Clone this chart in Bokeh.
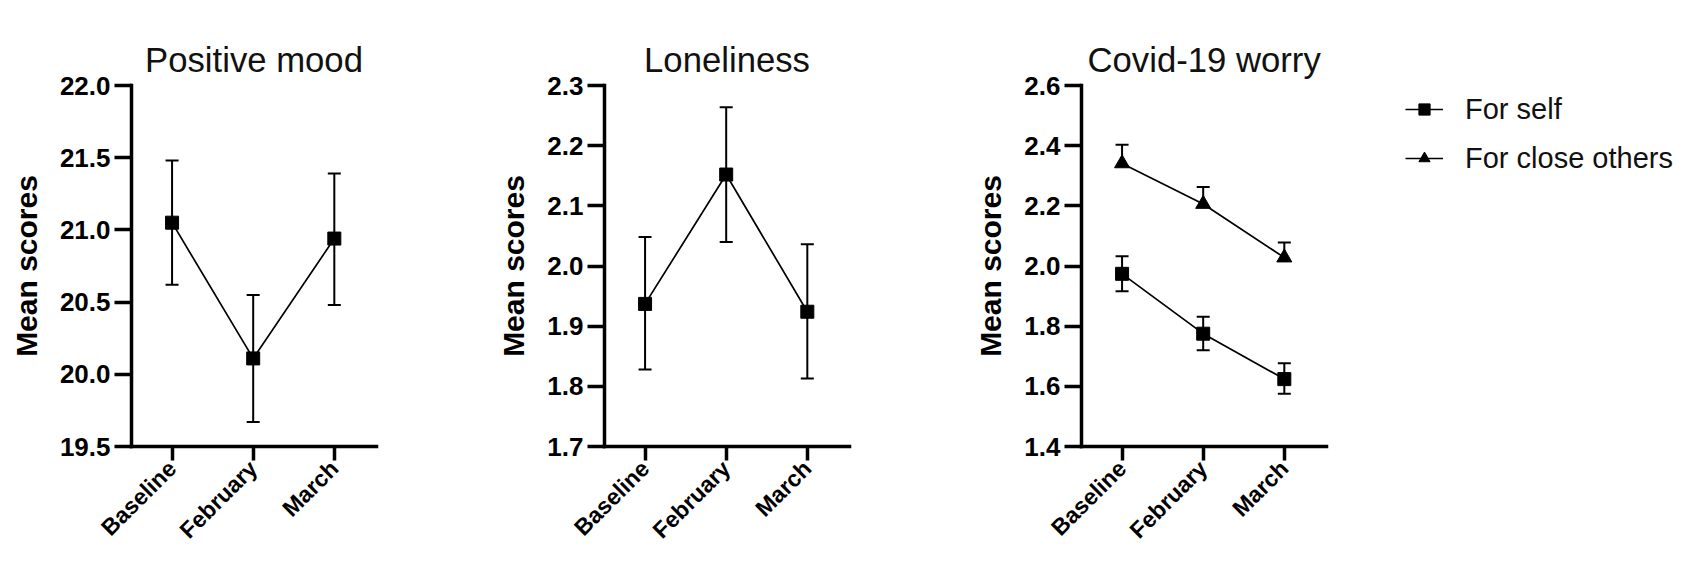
import math
from bokeh.plotting import figure
from bokeh.layouts import row
from bokeh.models import (Range1d, FixedTicker, Whisker, TeeHead, ColumnDataSource,
                          Legend, LegendItem, NumeralTickFormatter, LinearAxis, Title)
from bokeh.embed import file_html
from bokeh.resources import INLINE

# ---------------- data ----------------
categories = ["Baseline", "February", "March"]
x_pos = [0, 1, 2]

mood_mean = [21.05, 20.11, 20.94]
mood_lower = [20.62, 19.67, 20.48]
mood_upper = [21.48, 20.55, 21.39]

lonely_mean = [1.937, 2.152, 1.924]
lonely_lower = [1.828, 2.040, 1.813]
lonely_upper = [2.048, 2.264, 2.036]

self_mean = [1.974, 1.775, 1.624]
self_lower = [1.916, 1.720, 1.575]
self_upper = [2.032, 1.831, 1.677]

others_mean = [2.341, 2.206, 2.028]
others_upper = [2.403, 2.263, 2.078]

mood_ticks = [19.5, 20.0, 20.5, 21.0, 21.5, 22.0]
lonely_ticks = [1.7, 1.8, 1.9, 2.0, 2.1, 2.2, 2.3]
worry_ticks = [1.4, 1.6, 1.8, 2.0, 2.2, 2.4, 2.6]

titles = ["Positive mood", "Loneliness", "Covid-19 worry"]
y_label = "Mean scores"
legend_labels = ["For self", "For close others"]

FONT = "Liberation Sans"
H = 555
TOP = 85
FRAME_H = 363
X_LO, X_HI = -0.5, 2.52


def make_panel(title, ticks, width, left, right, x_end=X_HI, title_align="center"):
    p = figure(width=width, height=H, output_backend="svg", toolbar_location=None,
               title=None,
               x_range=Range1d(X_LO, x_end), y_range=Range1d(ticks[0], ticks[-1]),
               min_border_left=left, min_border_right=right,
               min_border_top=TOP, min_border_bottom=H - TOP - FRAME_H)
    p.outline_line_color = None
    p.background_fill_color = "white"
    p.border_fill_color = "white"
    p.xgrid.visible = False
    p.ygrid.visible = False

    # blank spacer between the frame and the title (no line, ticks or labels)
    spacer = LinearAxis(ticker=FixedTicker(ticks=[]), axis_line_color=None,
                        major_tick_line_color=None, minor_tick_line_color=None,
                        major_tick_out=32, major_tick_in=0,
                        minor_tick_out=0, minor_tick_in=0,
                        major_label_standoff=0, axis_label_standoff=0)
    p.add_layout(spacer, "above")

    ttl = Title(text=title, align=title_align, vertical_align="top",
                text_font=FONT, text_font_size="34.7px", text_font_style="normal",
                text_color="#111111", standoff=10,
                offset=6 if title_align == "left" else 0)
    p.add_layout(ttl, "above")

    xa = p.below[0]
    ya = p.left[0]
    for ax in (xa, ya):
        ax.axis_line_width = 3.5
        ax.axis_line_color = "black"
        ax.axis_line_cap = "square"
        ax.major_tick_line_width = 3.5
        ax.major_tick_line_color = "black"
        ax.major_tick_in = 0
        ax.minor_tick_in = 0
        ax.minor_tick_out = 0
        ax.major_label_text_font = FONT
        ax.major_label_text_font_style = "bold"
        ax.major_label_text_color = "black"

    xa.ticker = FixedTicker(ticks=x_pos)
    xa.bounds = (X_LO, X_HI)
    xa.major_label_overrides = {x: c for x, c in zip(x_pos, categories)}
    xa.major_label_orientation = math.pi / 4
    xa.major_label_text_font_size = "23px"
    xa.major_tick_out = 14
    xa.major_label_standoff = 4

    ya.ticker = FixedTicker(ticks=ticks)
    ya.formatter = NumeralTickFormatter(format="0.0")
    ya.major_tick_out = 17
    ya.major_label_standoff = 4
    ya.major_label_text_font_size = "26px"
    ya.axis_label = y_label
    ya.axis_label_text_font = FONT
    ya.axis_label_text_font_style = "bold"
    ya.axis_label_text_font_size = "30px"
    ya.axis_label_text_color = "black"
    ya.axis_label_standoff = 14
    return p


def add_series(p, mean, lower, upper, marker, size, lower_head=True):
    src = ColumnDataSource(dict(x=x_pos, y=mean, lower=lower, upper=upper))
    w = Whisker(source=src, base="x", upper="upper", lower="lower",
                line_width=2, line_color="black",
                upper_head=TeeHead(size=13, line_width=2, line_color="black"),
                lower_head=TeeHead(size=13, line_width=2, line_color="black") if lower_head else None)
    p.add_layout(w)
    ln = p.line("x", "y", source=src, line_width=1.7, line_color="black")
    sc = p.scatter("x", "y", source=src, marker=marker, size=size,
                   fill_color="black", line_color="black")
    return ln, sc


p1 = make_panel(titles[0], mood_ticks, 440, 131, 64)
add_series(p1, mood_mean, mood_lower, mood_upper, "square", 13)

p2 = make_panel(titles[1], lonely_ticks, 480, 164, 71)
add_series(p2, lonely_mean, lonely_lower, lonely_upper, "square", 13)

# third panel: frame extends to the right edge so the legend can sit inside it;
# the x axis line is limited to the category span with `bounds`
W3, L3 = 756, 161
unit = 245 / (X_HI - X_LO)
p3 = make_panel(titles[2], worry_ticks, W3, L3, 0,
                x_end=X_LO + (W3 - L3) / unit, title_align="left")
l_self, s_self = add_series(p3, self_mean, self_lower, self_upper, "square", 13)
l_oth, s_oth = add_series(p3, others_mean, others_mean, others_upper, "triangle", 15,
                          lower_head=False)

legend = Legend(items=[LegendItem(label=legend_labels[0], renderers=[l_self, s_self]),
                       LegendItem(label=legend_labels[1], renderers=[l_oth, s_oth])],
                location=(324, 270), padding=0, margin=0,
                border_line_color=None, background_fill_alpha=0,
                label_text_font=FONT, label_text_font_size="29px",
                label_text_color="#111111",
                glyph_width=38, glyph_height=28, label_height=36,
                label_standoff=22, spacing=13)
p3.add_layout(legend, "center")

layout = row(p1, p2, p3)
open("out.html", "w").write(file_html(layout, INLINE))
